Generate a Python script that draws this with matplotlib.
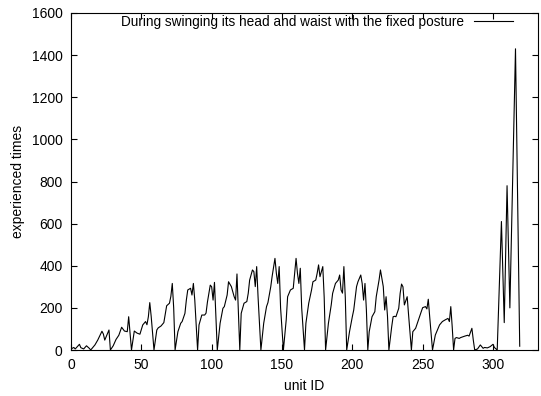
import matplotlib
matplotlib.use("Agg")
import matplotlib.pyplot as plt

plt.rcParams['font.family'] = ['Liberation Sans', 'DejaVu Sans']

# unit IDs and experienced times (vertices)
unit_id = [0, 2, 3, 6, 7, 9, 11, 13, 14,
           17, 19, 22, 23, 24, 25, 27, 28,
           30, 32, 34, 36, 38, 40, 41, 43,
           45, 47, 49, 51, 53, 54, 55, 56, 57, 59,
           61, 62, 64, 66, 67, 68, 70, 71, 72, 73, 74,
           76, 78, 79, 81, 82, 83, 85, 86, 87, 88, 90,
           91, 93, 95, 96, 97, 99, 100, 101, 102, 104,
           106, 108, 109, 111, 112, 114, 116, 117, 118, 120,
           121, 123, 125, 126, 127, 129, 130, 131, 132, 133, 135,
           137, 139, 140, 142, 143, 145, 146, 147, 148, 149, 151,
           153, 154, 156, 158, 160, 161, 162, 163, 164, 166,
           167, 169, 171, 172, 174, 175, 176, 177, 179, 180, 181,
           183, 185, 186, 188, 190, 191, 192, 193, 194, 195, 196,
           198, 200, 201, 203, 204, 206, 207, 208, 209, 210, 211,
           212, 214, 216, 217, 219, 220, 222, 223, 224, 225, 226,
           228, 229, 230, 231, 233, 234, 235, 236, 237, 239, 240, 242,
           243, 245, 247, 249, 250, 252, 253, 254, 255, 257,
           259, 260, 262, 264, 266, 268, 269, 270, 271, 272,
           273, 274, 276, 277, 280, 282, 283, 285, 286, 287,
           289, 291, 293, 294, 296, 298, 300, 301, 303,
           306, 308, 310, 312, 316, 319]

times = [5, 12, 5, 27, 11, 5, 20, 8, 0,
         24, 47, 89, 76, 47, 63, 95, 0,
         20, 50, 70, 108, 90, 87, 158, 0,
         90, 80, 75, 119, 135, 120, 158, 225, 160, 0,
         95, 105, 114, 130, 170, 210, 222, 255, 316, 200, 0,
         87, 127, 135, 174, 237, 285, 293, 261, 316, 237, 0,
         119, 166, 166, 175, 228, 308, 300, 237, 321, 0,
         127, 198, 206, 261, 324, 301, 253, 237, 361, 0,
         174, 222, 230, 269, 332, 380, 372, 301, 396, 250, 0,
         127, 206, 225, 300, 350, 435, 364, 316, 396, 200, 0,
         143, 253, 285, 293, 435, 364, 316, 388, 200, 0,
         127, 222, 285, 324, 332, 364, 404, 348, 396, 250, 0,
         127, 214, 269, 316, 332, 356, 285, 270, 396, 250, 0,
         87, 158, 190, 301, 324, 356, 316, 237, 316, 190, 0,
         87, 158, 182, 253, 332, 380, 301, 190, 253, 160, 0,
         111, 158, 160, 158, 198, 269, 313, 300, 214, 253, 166, 0,
         87, 103, 143, 182, 201, 206, 195, 241, 158, 0,
         71, 87, 119, 135, 143, 150, 135, 206, 111, 0,
         55, 59, 55, 59, 66, 70, 66, 103, 47, 0,
         5, 24, 8, 12, 10, 16, 27, 12, 0,
         610, 130, 780, 200, 1430, 18]

x_ticks = [0, 50, 100, 150, 200, 250, 300]
y_ticks = [0, 200, 400, 600, 800, 1000, 1200, 1400, 1600]

fig = plt.figure(figsize=(5.41, 3.96), dpi=100)
ax = fig.add_axes([71 / 541, 1 - 350 / 396, 467 / 541, 337 / 396])

ax.plot(unit_id, times, color='black', linewidth=0.8,
        label='During swinging its head and waist with the fixed posture')

ax.set_xlim(0, 332)
ax.set_ylim(0, 1600)
ax.set_xticks(x_ticks)
ax.set_yticks(y_ticks)
ax.tick_params(direction='in', top=True, right=True, labelsize=10,
               length=4, width=0.8, pad=6)
for s in ax.spines.values():
    s.set_linewidth(0.8)

ax.set_xlabel('unit ID', fontsize=10, labelpad=5)
ax.set_ylabel('experienced times', fontsize=10, labelpad=5)

ax.legend(loc='upper right', frameon=False, markerfirst=False, fontsize=9.8,
          handlelength=2.9, handletextpad=0.7, borderpad=0, borderaxespad=0,
          bbox_to_anchor=((513 - 71) / 467, 0.995))

fig.savefig('out.png', dpi=100)
